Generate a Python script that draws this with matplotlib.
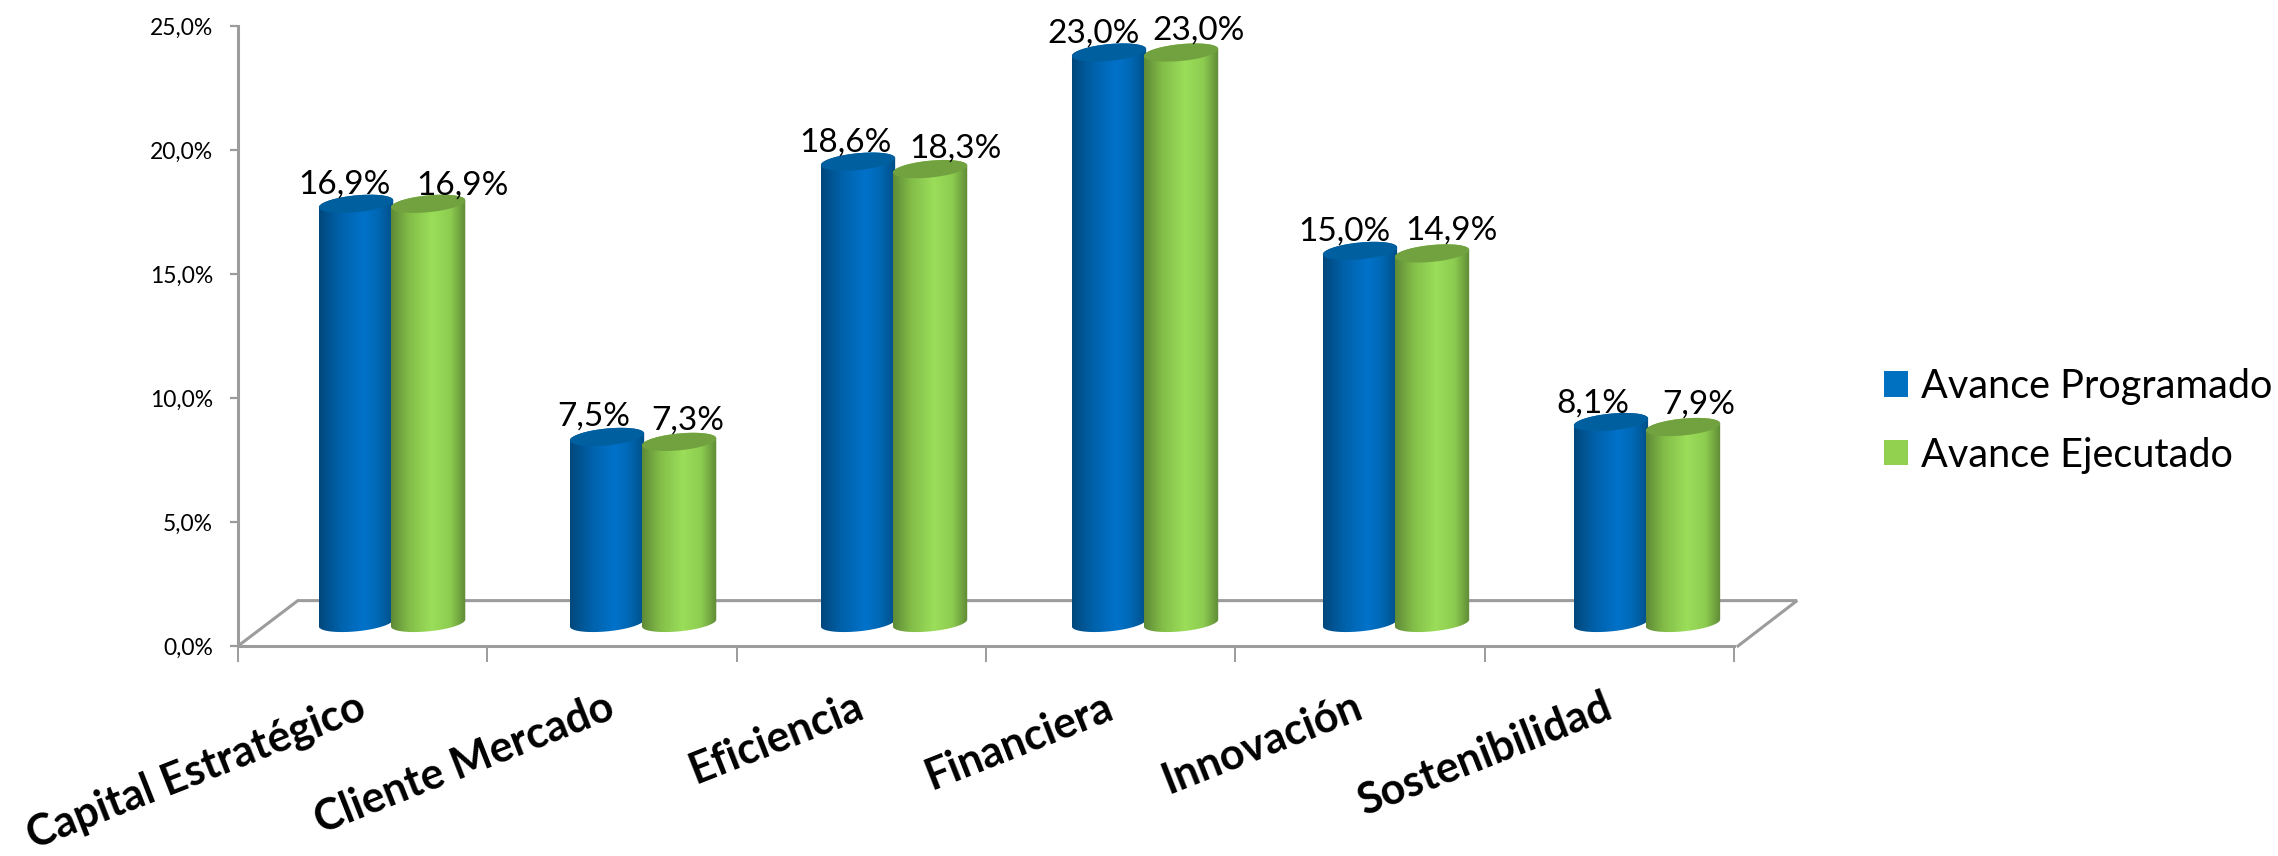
import numpy as np
import matplotlib
matplotlib.use("Agg")
import matplotlib.pyplot as plt
from matplotlib.colors import LinearSegmentedColormap
from matplotlib.patches import Patch, PathPatch, Polygon
from matplotlib.path import Path
from matplotlib.transforms import ScaledTranslation

categories = ['Capital Estratégico', 'Cliente Mercado', 'Eficiencia',
              'Financiera', 'Innovación', 'Sostenibilidad']
programado = [16.9, 7.5, 18.6, 23.0, 15.0, 8.1]
ejecutado = [16.9, 7.3, 18.3, 23.0, 14.9, 7.9]
programado_labels = ['16,9%', '7,5%', '18,6%', '23,0%', '15,0%', '8,1%']
ejecutado_labels = ['16,9%', '7,3%', '18,3%', '23,0%', '14,9%', '7,9%']
y_ticks = [0, 5, 10, 15, 20, 25]
y_tick_labels = ['0,0%', '5,0%', '10,0%', '15,0%', '20,0%', '25,0%']

# hand placed data labels in the original, offsets in pixels
prog_dx = [-12, -13, -13, -15, -16, -18]
ejec_dx = [34, 9, 25, 18, 19, 16]
prog_dy = [19, 20, 19, 19, 19, 19]
ejec_dy = [18, 21, 21, 22, 23, 22]

plt.rcParams['font.family'] = ['Lato', 'DejaVu Sans']

GREY = '#9c9c9c'
W, H = 2278, 856

blue_cmap = LinearSegmentedColormap.from_list(
    'blue', [(0, '#00487c'), (0.3, '#0063ad'), (0.6, '#0072ca'), (0.78, '#0068b6'), (1, '#004f86')])
green_cmap = LinearSegmentedColormap.from_list(
    'green', [(0, '#5f8a36'), (0.25, '#84bf49'), (0.55, '#9bde5a'), (0.8, '#8ccb4f'), (1, '#5f8a36')])

fig = plt.figure(figsize=(W / 100, H / 100), dpi=100)
ax = fig.add_axes([238 / W, 1 - 646 / H, 1496 / W, 620 / H])

# one data unit in px: x 249.3, y 24.8
half_w = 0.149
ell_b = 0.34
ell_s = 0.14
depth_x = 0.118
depth_y = 0.93
gap = 0.1445
group_step = 1.0066  # bars drift a little against the ticks in the original


def cylinder(center, value, cmap, cap_color, z):
    bottom = depth_y
    top = value + depth_y
    t_low = np.linspace(np.pi, 2 * np.pi, 40)
    t_up = np.linspace(0, np.pi, 40)
    xs = np.r_[center + half_w * np.cos(t_low), center + half_w * np.cos(t_up)]
    ys = np.r_[bottom + ell_b * np.sin(t_low) + ell_s * np.cos(t_low),
               top + ell_b * np.sin(t_up) + ell_s * np.cos(t_up)]
    verts = np.c_[xs, ys]
    path = Path(np.r_[verts, verts[:1]], closed=True)
    body = PathPatch(path, transform=ax.transData, facecolor='none', edgecolor='none')
    ax.add_patch(body)
    grad = np.linspace(0, 1, 128).reshape(1, -1)
    im = ax.imshow(grad, extent=(center - half_w, center + half_w, bottom - 1, top + 1),
                   aspect='auto', cmap=cmap, zorder=z, interpolation='bilinear')
    im.set_clip_path(body)
    t = np.linspace(0, 2 * np.pi, 80)
    cap = Polygon(np.c_[center + half_w * np.cos(t),
                        top + ell_b * np.sin(t) + ell_s * np.cos(t)],
                  closed=True, facecolor=cap_color, edgecolor='none', zorder=z + 0.1)
    ax.add_patch(cap)


# floor of the 3d box
floor_x = [-0.5, -0.5 + 0.24, 5.5 + 0.253, 5.5 + 0.016]
floor_y = [0, 1.83, 1.83, 0]
ax.plot(floor_x, floor_y, color=GREY, lw=2.2, clip_on=False, zorder=1, solid_joinstyle='miter')

for i in range(len(categories)):
    c1 = i * group_step + depth_x - gap
    c2 = i * group_step + depth_x + gap
    cylinder(c1, programado[i], blue_cmap, '#005f9f', 2 + i)
    cylinder(c2, ejecutado[i], green_cmap, '#72a23f', 2.5 + i)
    ax.annotate(programado_labels[i], (c1, programado[i] + depth_y),
                xytext=(prog_dx[i], prog_dy[i]), textcoords='offset pixels',
                ha='center', va='center', fontsize=24, color='black', zorder=20)
    ax.annotate(ejecutado_labels[i], (c2, ejecutado[i] + depth_y),
                xytext=(ejec_dx[i], ejec_dy[i]), textcoords='offset pixels',
                ha='center', va='center', fontsize=24, color='black', zorder=20)

ax.set_xlim(-0.5, 5.5)
ax.set_ylim(0, 25)
ax.patch.set_alpha(0)

for side in ['top', 'right']:
    ax.spines[side].set_visible(False)
for side in ['left', 'bottom']:
    ax.spines[side].set_color(GREY)
    ax.spines[side].set_linewidth(2.2)

ax.set_yticks(y_ticks)
ax.set_yticklabels(y_tick_labels, fontsize=16.5)
ax.tick_params(axis='y', length=6, width=1.6, color=GREY, pad=12)

ax.set_xticks(np.arange(-0.5, 6, 1))
ax.set_xticklabels([])
ax.tick_params(axis='x', which='major', length=11.5, width=1.4, color=GREY)
ax.set_xticks(np.arange(6), minor=True)
ax.set_xticklabels(categories, minor=True, fontsize=31, fontweight='bold',
                   rotation=21.5, ha='right', va='top', rotation_mode='anchor')
ax.tick_params(axis='x', which='minor', length=0, pad=29)
shift = ScaledTranslation(-7 / 100, 0, fig.dpi_scale_trans)
for lab in ax.get_xticklabels(minor=True):
    lab.set_transform(lab.get_transform() + shift)

handles = [Patch(facecolor='#0070c0', label='Avance Programado'),
           Patch(facecolor='#92d050', label='Avance Ejecutado')]
fig.legend(handles=handles, loc='upper left', bbox_to_anchor=(1884 / W, 1 - 368 / H),
           frameon=False, fontsize=28.5, handlelength=0.6, handleheight=0.6,
           handletextpad=0.33, labelspacing=0.8, borderpad=0.0, borderaxespad=0)

fig.savefig('out.png', dpi=100)
